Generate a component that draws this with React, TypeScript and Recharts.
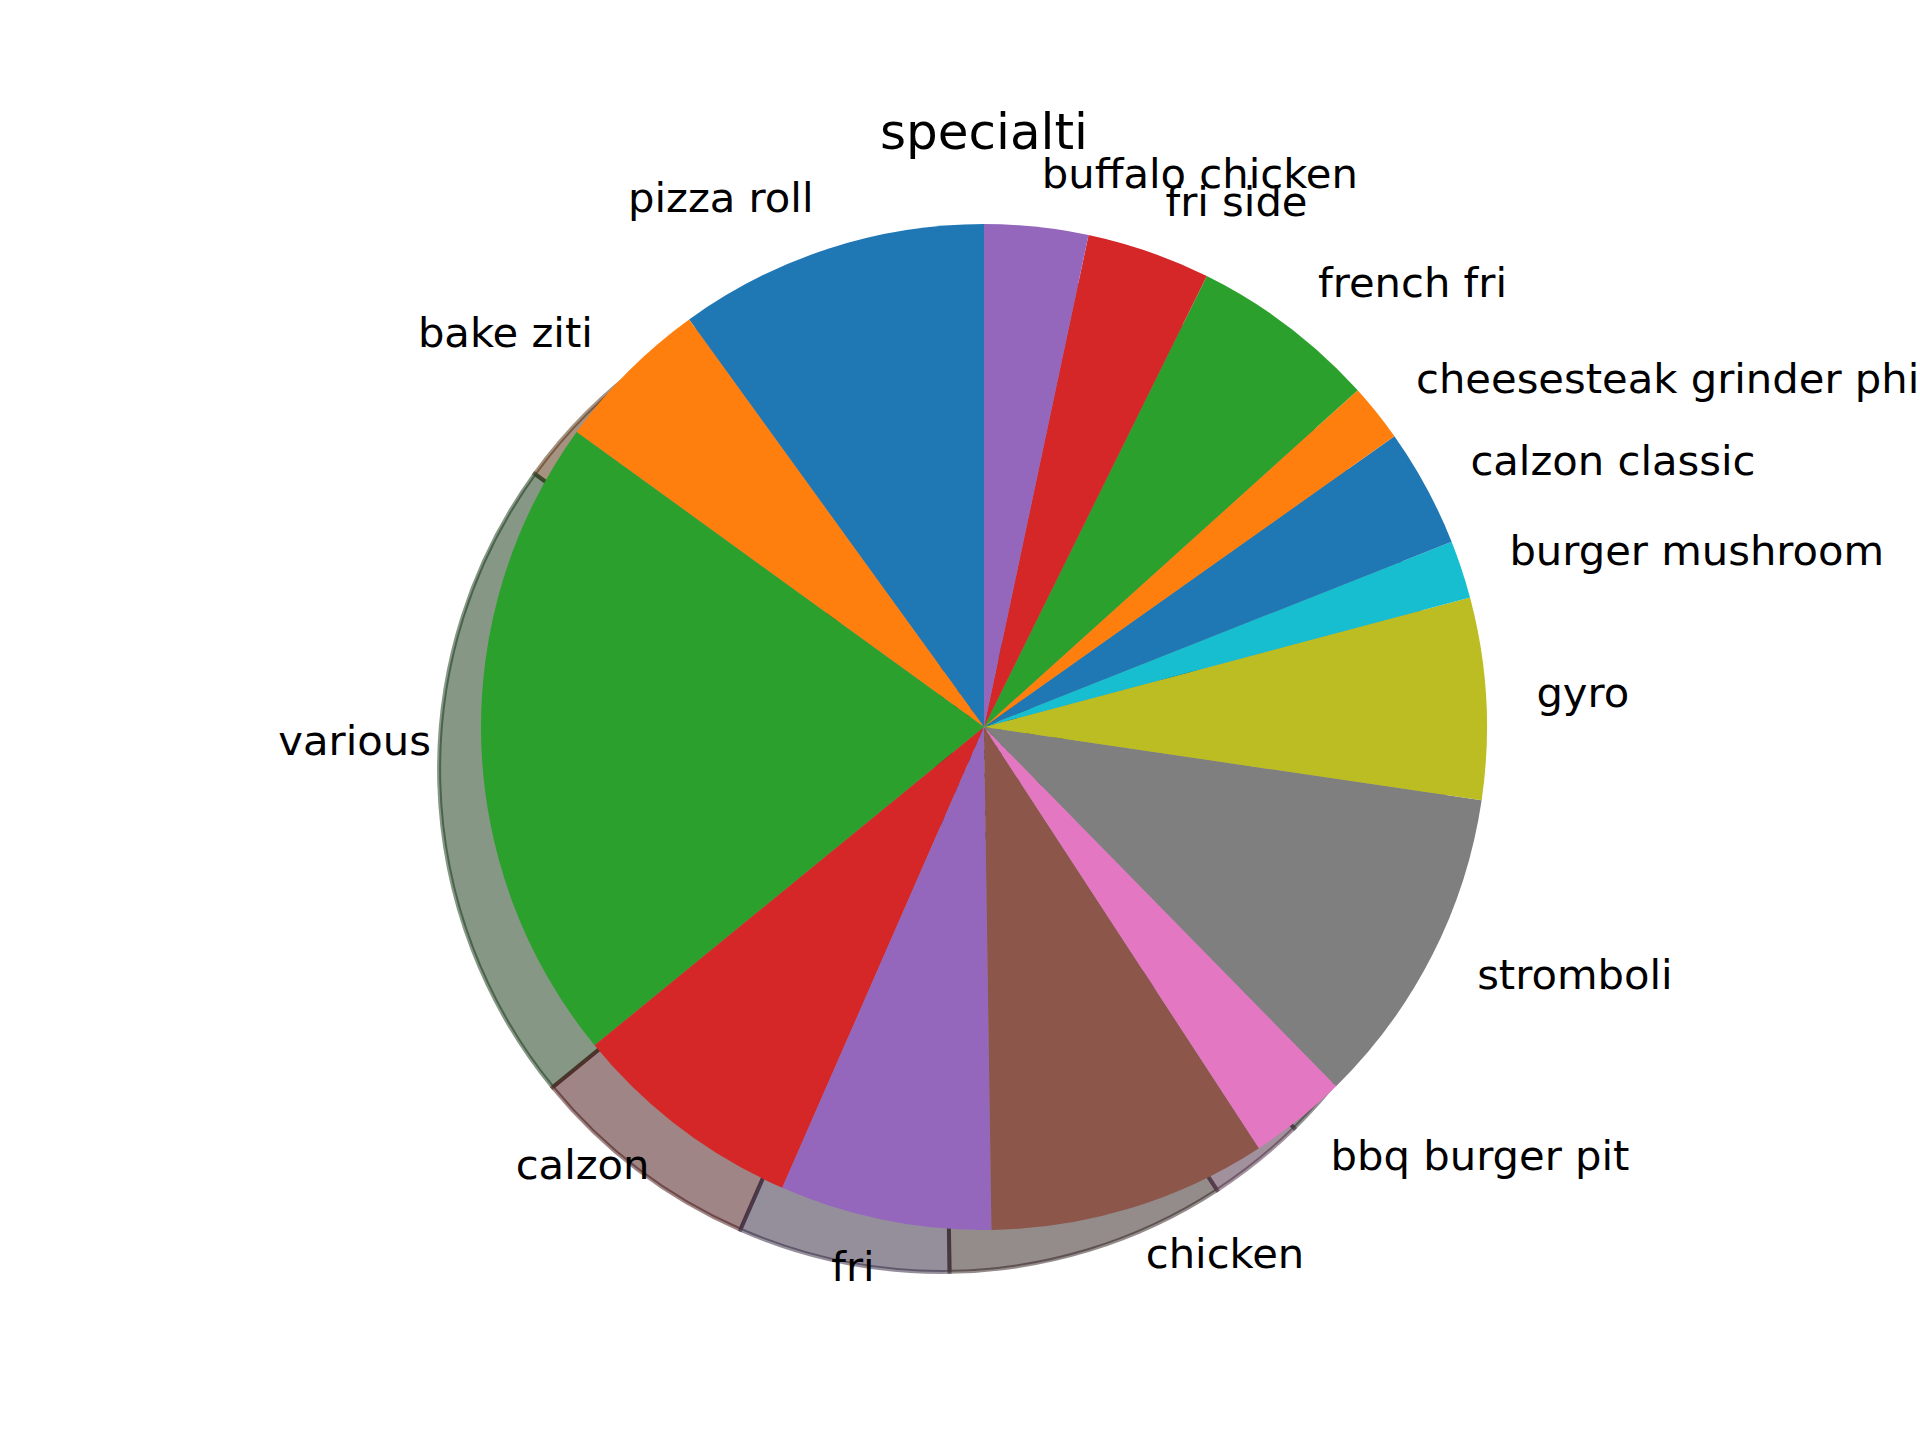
import React from 'react';
import { PieChart, Pie, Cell } from 'recharts';

const categories = [
  'pizza roll', 'bake ziti', 'various', 'calzon', 'fri', 'chicken', 'bbq burger pit',
  'stromboli', 'gyro', 'burger mushroom', 'calzon classic', 'cheesesteak grinder phi',
  'french fri', 'fri side', 'buffalo chicken',
];
const values = [35.9, 18.2, 75.2, 27.1, 24.5, 32.3, 11.3, 37.2, 23.3, 6.7, 13.7, 6.7, 21.7, 14.3, 12.0];
const colors = [
  '#1f77b4', '#ff7f0e', '#2ca02c', '#d62728', '#9467bd', '#8c564b', '#e377c2',
  '#7f7f7f', '#bcbd22', '#17becf', '#1f77b4', '#ff7f0e', '#2ca02c', '#d62728', '#9467bd',
];
const title = 'specialti';

const data = categories.map((name, i) => ({ name, value: values[i] }));

function shade(hex: string): string {
  const n = parseInt(hex.slice(1), 16);
  const r = Math.round(((n >> 16) & 255) * 0.3);
  const g = Math.round(((n >> 8) & 255) * 0.3);
  const b = Math.round((n & 255) * 0.3);
  return `rgb(${r},${g},${b})`;
}

const CX = 979;
const CY = 722;
const R = 503;
const OFF = R * 0.02 * 300 / 72;
const FONT = 'DejaVu Sans, sans-serif';
const RAD = Math.PI / 180;

const renderLabel = (props: any) => {
  const { cx, cy, midAngle, outerRadius, name } = props;
  const x = cx + 1.1 * outerRadius * Math.cos(-midAngle * RAD);
  const y = cy + 1.1 * outerRadius * Math.sin(-midAngle * RAD) - 3;
  return (
    <text
      x={x}
      y={y}
      textAnchor={x > cx ? 'start' : 'end'}
      dominantBaseline="central"
      fontFamily={FONT}
      fontSize={41.7}
      fill="#000"
    >
      {name}
    </text>
  );
};

export default function App() {
  return (
    <div style={{ position: 'absolute', left: 0, top: 0, width: 1920, height: 1440, background: '#fff' }}>
      <PieChart width={1920} height={1440}>
        <Pie
          data={data}
          dataKey="value"
          nameKey="name"
          cx={CX - OFF}
          cy={CY + OFF}
          outerRadius={R}
          startAngle={90}
          endAngle={450}
          isAnimationActive={false}
          label={false}
          labelLine={false}
        >
          {data.map((d, i) => (
            <Cell
              key={`s-${i}`}
              fill={shade(colors[i])}
              fillOpacity={0.5}
              stroke={shade(colors[i])}
              strokeOpacity={0.5}
              strokeWidth={4}
            />
          ))}
        </Pie>
        <Pie
          data={data}
          dataKey="value"
          nameKey="name"
          cx={CX}
          cy={CY}
          outerRadius={R}
          startAngle={90}
          endAngle={450}
          isAnimationActive={false}
          label={renderLabel}
          labelLine={false}
          stroke="none"
        >
          {data.map((d, i) => (
            <Cell key={`c-${i}`} fill={colors[i]} stroke="none" />
          ))}
        </Pie>
        <text x={984} y={149} textAnchor="middle" fontFamily={FONT} fontSize={50} fill="#000">
          {title}
        </text>
      </PieChart>
    </div>
  );
}
